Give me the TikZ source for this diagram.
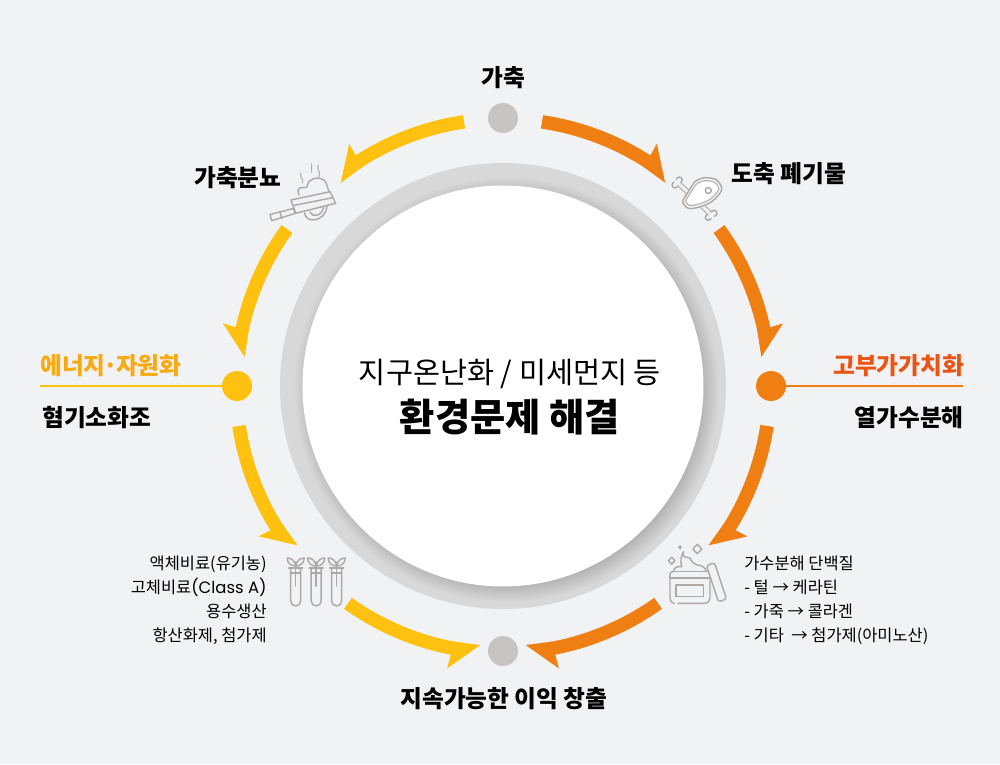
\documentclass[tikz,border=0pt]{standalone}
\usepackage{fontspec}
\setmainfont{Noto Sans CJK KR}
\newfontfamily\krblack{Noto Sans CJK KR Black}
\newfontfamily\latinfont{Poppins}
\definecolor{pagebg}{HTML}{F1F2F4}
\definecolor{ringgray}{HTML}{D8D8D8}
\definecolor{ringdark}{HTML}{B2B2B2}
\definecolor{dotgray}{HTML}{C8C4C2}
\definecolor{ringorange}{HTML}{F07F13}
\definecolor{ringyellow}{HTML}{FEC10F}
\definecolor{headorange}{HTML}{EA5514}
\definecolor{headyellow}{HTML}{F9A911}
\definecolor{icongray}{HTML}{ABA8A6}
\tikzset{
  dotnode/.style={circle, inner sep=0pt, minimum size=0.6cm},
  orangeband/.style={draw=ringorange, line width=0.27cm, bend left=#1, looseness=.86},
  yellowband/.style={draw=ringyellow, line width=0.27cm, bend right=#1, looseness=.86},
  titlelabel/.style={font=\krblack\fontsize{13.5}{15}\selectfont, text=black, inner sep=0pt},
  smalllabel/.style={font=\fontsize{9.35}{13.6}\selectfont, text=black, inner sep=0pt},
  iconline/.style={draw=icongray, line width=0.8pt, line join=round, line cap=round},
  iconthin/.style={draw=icongray!85, line width=0.7pt, line cap=round},
  bonepart/.style={draw=icongray, line width=0.6pt, double=pagebg, double distance=1.8pt},
  tubeicon/.pic={
    \draw [iconline] (-5,568) -- (-5,601) arc [start angle=180, end angle=0, radius=5] -- (5,568);
    \draw [iconline] (-7,568) -- (7,568);
    \draw [iconline] (0,562) -- (0,586);
    \draw [iconline] (-5,573) -- (5,573);
    \draw [iconline] (0,566) .. controls (-1,560) and (-5,558) .. (-8.5,558) .. controls (-8.5,563) and (-5,566) .. (0,566);
    \draw [iconline] (0,566) .. controls (1,560) and (5,558) .. (8.5,558) .. controls (8.5,563) and (5,566) .. (0,566);
  }
}
\begin{document}
\begin{tikzpicture}[x=0.02cm, y=0.02cm]
\useasboundingbox (-503,-378) rectangle (497,386);
\fill [pagebg] (-503,-378) rectangle (497,386);

\fill [ringgray] (0,0) circle (223);
\foreach \shaderad in {213,212,...,195} {
  \pgfmathtruncatemacro{\shadepct}{100*(213-\shaderad)/18}
  \fill [ringdark!\shadepct!ringgray] (4,-4) circle (\shaderad);
}
\fill [white] (0,0) circle (200.5);

\node [dotnode, fill=dotgray] (topdot) at (0,268) {};
\node [dotnode, fill=ringorange] (rightdot) at (268,0) {};
\node [dotnode, fill=dotgray] (bottomdot) at (0,-265) {};
\node [dotnode, fill=ringyellow] (leftdot) at (-266,0) {};

\coordinate (rightend) at (460,0);
\coordinate (leftend) at (-463,0);
\draw [ringorange, line width=0.05cm] (rightdot) -- (rightend);
\draw [ringyellow, line width=0.05cm] (leftdot) -- (leftend);

\coordinate (meatin) at (81.6:267);
\coordinate (meathead) at (56.4:267);
\coordinate (meatout) at (36:267);
\coordinate (rightin) at (11.4:267);
\coordinate (rightout) at (-8.6:267);
\coordinate (jarin) at (-32.8:267);
\coordinate (jarout) at (-54.5:267);
\coordinate (bottomin) at (-80:267);
\coordinate (tubeout) at (-125.5:267);
\coordinate (bottomin2) at (-100:267);
\coordinate (leftout) at (188.6:267);
\coordinate (tubein) at (212.8:267);
\coordinate (panout) at (144:267);
\coordinate (leftin) at (168.6:267);
\coordinate (topout) at (98.4:267);
\coordinate (panin) at (123.6:267);

\draw [orangeband=12.6] (meatin) to (meathead);
\draw [orangeband=12.3] (meatout) to (rightin);
\draw [orangeband=12.1] (rightout) to (jarin);
\draw [orangeband=12.75] (jarout) to (bottomin);
\draw [yellowband=12.75] (tubeout) to (bottomin2);
\draw [yellowband=12.1] (leftout) to (tubein);
\draw [yellowband=12.3] (panout) to (leftin);
\draw [yellowband=12.6] (topout) to (panin);

\fill [ringorange] (51.4:260) -- (57.6:287) -- (57.4:273.7) -- (57.4:260.3) -- cycle;
\fill [ringorange] (6.4:260) -- (12.6:287) -- (12.4:273.7) -- (12.4:260.3) -- cycle;
\fill [ringorange] (-37.8:260) -- (-31.6:287) -- (-31.8:273.7) -- (-31.8:260.3) -- cycle;
\fill [ringorange] (-85:260) -- (-78.8:288) -- (-79:274) -- (-79:260.3) -- cycle;
\fill [ringyellow] (-95:260) -- (-101.2:288) -- (-101:274) -- (-101:260.3) -- cycle;
\fill [ringyellow] (217.8:260) -- (211.6:287) -- (211.8:273.7) -- (211.8:260.3) -- cycle;
\fill [ringyellow] (173.6:260) -- (167.4:287) -- (167.6:273.7) -- (167.6:260.3) -- cycle;
\fill [ringyellow] (128.6:260) -- (122.4:287) -- (122.6:273.7) -- (122.6:260.3) -- cycle;

\node [font=\fontsize{16.75}{18}\selectfont, text=black, inner sep=0pt] (problemlabel) at (7,12) {지구온난화 / 미세먼지 등};
\node [font=\krblack\fontsize{21.8}{24}\selectfont, text=black, inner sep=0pt] (solvelabel) at (7,-31) {환경문제 해결};

\node [titlelabel] (farmlabel) at (0,308) {가축};
\node [titlelabel] (wastelabel) at (286,212) {도축 폐기물};
\node [titlelabel] (manurelabel) at (-265,208) {가축분뇨};
\node [titlelabel, text=headorange, anchor=east] (valuelabel) at (461.5,20) {고부가가치화};
\node [titlelabel, anchor=east] (hydrolabel) at (461,-32) {열가수분해};
\node [titlelabel, text=headyellow, anchor=west] (energylabel) at (-463,20) {에너지\kern-1.2pt·\kern-1.2pt 자원화};
\node [titlelabel, anchor=west] (digestlabel) at (-461,-32) {혐기소화조};
\node [titlelabel] (profitlabel) at (1,-313) {지속가능한 이익 창출};

\node [smalllabel, anchor=east, align=right] (leftlist) at (-236,-214.5) {액체비료(유기농)\\고체비료{\latinfont (Class A)}\\용수생산\\항산화제, 첨가제};
\node [smalllabel, anchor=west, align=left] (rightlist) at (241,-214.5) {가수분해 단백질\\- 털 → 케라틴\\- 가죽 → 콜라겐\\- 기타 \ → 첨가제(아미노산)};

\begin{scope}[shift={(-503,386)}, yscale=-1]
\filldraw [iconline, fill=pagebg] (679.3,180) circle (3);
\filldraw [iconline, fill=pagebg] (675,185) circle (3);
\fill [pagebg] (677.2,182.5) circle (3);
\filldraw [iconline, fill=pagebg] (714,213.3) circle (3);
\filldraw [iconline, fill=pagebg] (708.3,217.3) circle (3);
\fill [pagebg] (711.2,215.3) circle (3);
\draw [bonepart] (680,185) -- (690,194);
\draw [bonepart] (700,204) -- (709.5,213);
\filldraw [iconline, fill=pagebg, line width=0.8pt] plot [smooth cycle] coordinates {(682.7,201.7) (688.3,208.3) (698.3,207.3) (711.7,201.7) (721.7,190) (716.7,180) (705,177.7) (695,181.7) (688.3,191.7)};
\draw [iconthin, fill=white] plot [smooth cycle] coordinates {(685.7,201) (689.3,205.3) (697.8,204.3) (710.2,199.2) (718.7,189.5) (714.7,182.5) (705,180.7) (696.5,184.2) (690.3,193.2)};
\draw [iconline] (708.3,190.5) circle (3);

\draw [iconthin] (301,173) .. controls (299,177) and (304,178) .. (302.5,183);
\draw [iconthin] (311.5,164) .. controls (310,167) and (313,169) .. (311.5,172);
\draw [iconthin] (318.3,165) .. controls (316.5,169) and (321,172) .. (319,177);
\draw [iconline] plot [smooth] coordinates {(299,195) (298,190.5) (301,187.5) (306.5,187.5) (309,181.5) (316.7,178) (325,181) (328.8,191.7)};
\draw [iconline] (304.5,213) .. controls (306,224) and (325,222) .. (327,206.5);
\draw [iconline] (310,212) .. controls (312,218) and (322,216) .. (323.5,207.5);
\filldraw [iconline, fill=pagebg] (291,200) -- (330,191.7) -- (335.7,203.3) -- (295.7,213.3) -- cycle;
\draw [iconline] (293.3,205.5) -- (332.7,197.7);
\filldraw [iconline, fill=pagebg] (270,214.5) -- (293.5,208.5) -- (295,213.5) -- (271.7,220.7) -- cycle;
\draw [iconline] (280,212) -- (281.7,218.3);

\pic [transform shape] at (295.7,0) {tubeicon};
\pic [transform shape] at (316.2,0) {tubeicon};
\pic [transform shape] at (336.7,0) {tubeicon};

\draw [iconline] (670,578) -- (710,578);
\draw [iconline] (673,571.7) -- (707,571.7);
\draw [iconline] (670,578) .. controls (669.5,574) and (670,571.7) .. (673,571.7);
\draw [iconline] (670,578) -- (670,598) .. controls (670,601) and (672,603.3) .. (674,603.3);
\draw [iconline] (678,603.3) -- (704,603.3) .. controls (708,603.3) and (710,601) .. (710,598) -- (710,578);
\draw [iconline] (676,585) rectangle (703.3,596.7);
\draw [iconline] (673.3,571.7) .. controls (674,567) and (678,566) .. (681.7,566.7) .. controls (680,561) and (681,556) .. (683.5,551.7) .. controls (682,559) and (686,556) .. (690,558.3) .. controls (692,562) and (694,564) .. (697,565) .. controls (701,565) and (705,567) .. (706.7,571.7);
\draw [iconline, rounded corners=1.5pt] (706.5,565.5) -- (714.5,562.7) -- (726.5,599) -- (718.5,602) -- cycle;
\draw [iconline] (697.3,544.3) -- (701.8,549) -- (697.3,553.7) -- (692.8,549) -- cycle;
\draw [iconline] (671.7,557.2) -- (675,560.7) -- (671.7,564.2) -- (668.4,560.7) -- cycle;
\fill [icongray] (680,545) -- (682,547.3) -- (680,549.6) -- (678,547.3) -- cycle;
\end{scope}
\end{tikzpicture}
\end{document}
